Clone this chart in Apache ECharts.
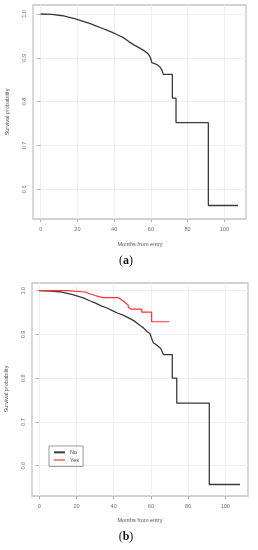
<!DOCTYPE html>
<html><head><meta charset="utf-8">
<script src="https://cdn.jsdelivr.net/npm/echarts@6/dist/echarts.min.js"></script>
<style>html,body{margin:0;padding:0;background:#fff}#c{width:258px;height:550px}</style>
</head><body><div id="c"></div>
<script>
// ---- data (repeated months mark the vertical drops of the step curve) ----
const xTicks = [0, 20, 40, 60, 80, 100];
const yTicks = [0.6, 0.7, 0.8, 0.9, 1.0];

// panel (a): all patients
const monthsA = [0, 6, 12, 15, 18, 21, 24, 27, 30, 33, 36, 39, 42, 45, 48, 51, 54, 56, 58, 59, 59.9, 60.5, 62, 63.5, 64.5, 65.2, 66, 66.8, 71.7, 71.7, 73.7, 73.7, 91.3, 91.3, 107.5];
const survA   = [1.0, 0.999, 0.996, 0.993, 0.990, 0.986, 0.982, 0.978, 0.973, 0.968, 0.963, 0.958, 0.952, 0.946, 0.937, 0.929, 0.922, 0.917, 0.911, 0.906, 0.899, 0.889, 0.887, 0.884, 0.884, 0.878, 0.872, 0.862, 0.862, 0.808, 0.808, 0.752, 0.752, 0.563, 0.563];

// panel (b): group "No"
const monthsNo = [0, 6, 12, 15, 18, 21, 24, 27, 30, 33, 36, 39, 42, 45, 48, 51, 54, 56, 58, 59.5, 60.4, 61.3, 63.1, 64, 65.3, 66.7, 71.5, 71.5, 73.9, 73.9, 91.4, 91.4, 107.9];
const survNo   = [1.0, 0.999, 0.997, 0.994, 0.991, 0.987, 0.983, 0.977, 0.972, 0.966, 0.961, 0.955, 0.949, 0.944, 0.938, 0.931, 0.921, 0.915, 0.906, 0.902, 0.891, 0.881, 0.876, 0.872, 0.868, 0.854, 0.854, 0.800, 0.800, 0.743, 0.743, 0.557, 0.557];
// panel (b): group "Yes"
const monthsYes = [0, 14.7, 14.7, 24.6, 25, 27.2, 28, 30, 32.6, 34.4, 42.5, 42.5, 44.3, 44.3, 46.1, 46.1, 47.8, 47.8, 49.3, 55.1, 55.1, 60.4, 60.4, 69.9];
const survYes   = [1.0, 1.0, 0.998, 0.997, 0.995, 0.993, 0.990, 0.989, 0.986, 0.984, 0.984, 0.981, 0.979, 0.975, 0.973, 0.969, 0.967, 0.962, 0.958, 0.958, 0.951, 0.951, 0.929, 0.929];

const legendNames = ['No', 'Yes'];
const xTitle = 'Months from entry';
const yTitle = 'Survival probability';

// ---- chart ----
const pairs = (xs, ys) => xs.map((x, i) => [x, ys[i]]);
const FONT = 'Liberation Sans';
const LBL = '#707070';
const BOX = '#c4c4c4';
const BLACK = '#3a3a3a';
const RED = '#ff3030';

function xAxis(gi, min, max) {
  return {
    type: 'value', gridIndex: gi, min: min, max: max,
    axisLine: { show: false },
    axisTick: { show: true, inside: false, length: 3, lineStyle: { color: '#b0b0b0', width: 1 }, customValues: xTicks },
    axisLabel: { color: LBL, fontSize: 5.6, fontFamily: FONT, margin: 7, customValues: xTicks, formatter: v => String(v) },
    splitLine: { show: true, lineStyle: { color: '#efefef', width: 1 } }
  };
}
function yAxis(gi, min, max) {
  return {
    type: 'value', gridIndex: gi, min: min, max: max,
    axisLine: { show: false },
    axisTick: { show: true, inside: false, length: 3, lineStyle: { color: '#b0b0b0', width: 1 }, customValues: yTicks },
    axisLabel: { color: LBL, fontSize: 5.6, fontFamily: FONT, margin: 6, rotate: 90, customValues: yTicks, formatter: v => v.toFixed(1) },
    splitLine: { show: true, lineStyle: { color: '#efefef', width: 1 } }
  };
}
function txt(x, y, text, opts) {
  return Object.assign({ type: 'text', x: x, y: y, silent: true,
    style: Object.assign({ text: text, fill: '#555', fontSize: 5.6, fontFamily: FONT, align: 'center', verticalAlign: 'middle' }, opts && opts.style || {}) },
    opts && opts.rotation ? { rotation: opts.rotation } : {});
}
function panelLabel(x, y, letter) {
  return { type: 'text', x: x, y: y, silent: true,
    style: { text: '(' + '{b|' + letter + '})', fill: '#111', fontSize: 12, fontFamily: 'Liberation Serif', align: 'center', verticalAlign: 'middle',
      rich: { b: { fontWeight: 'bold', fontSize: 12, fontFamily: 'Liberation Serif', fill: '#111' } } } };
}

const chart = echarts.init(document.getElementById('c'), null, { renderer: 'canvas' });
chart.setOption({
  animation: false,
  backgroundColor: '#fff',
  grid: [
    { left: 33, top: 5, width: 213, height: 214, show: true, borderColor: BOX, borderWidth: 1.3, backgroundColor: 'transparent' },
    { left: 32, top: 283, width: 216, height: 213, show: true, borderColor: BOX, borderWidth: 1.3, backgroundColor: 'transparent' }
  ],
  xAxis: [xAxis(0, -4.19, 111.8), xAxis(1, -3.92, 112.2)],
  yAxis: [yAxis(0, 0.5322, 1.0205), yAxis(1, 0.5307, 1.0176)],
  legend: {
    data: legendNames, left: 49, top: 446, orient: 'vertical',
    itemWidth: 11, itemHeight: 2, itemGap: 1, itemTextGap: 5,
    icon: 'rect', borderColor: '#999', borderWidth: 1, borderRadius: 0,
    padding: [3, 4, 3, 5],
    textStyle: { fontSize: 5.6, fontFamily: FONT, color: '#444', lineHeight: 6.7 }
  },
  series: [
    { name: 'All', type: 'line', xAxisIndex: 0, yAxisIndex: 0, showSymbol: false, data: pairs(monthsA, survA), lineStyle: { color: BLACK, width: 1.3 }, itemStyle: { color: BLACK } },
    { name: legendNames[0], type: 'line', xAxisIndex: 1, yAxisIndex: 1, showSymbol: false, data: pairs(monthsNo, survNo), lineStyle: { color: BLACK, width: 1.3 }, itemStyle: { color: BLACK } },
    { name: legendNames[1], type: 'line', xAxisIndex: 1, yAxisIndex: 1, showSymbol: false, data: pairs(monthsYes, survYes), lineStyle: { color: RED, width: 1.2 }, itemStyle: { color: '#ff8080' } }
  ],
  graphic: [
    txt(7, 112, yTitle, { rotation: Math.PI / 2 }),
    txt(140, 244, xTitle),
    panelLabel(126, 261, 'a'),
    txt(6.5, 389, yTitle, { rotation: Math.PI / 2 }),
    txt(140, 520, xTitle),
    panelLabel(126, 537, 'b')
  ]
});
</script>
</body></html>
